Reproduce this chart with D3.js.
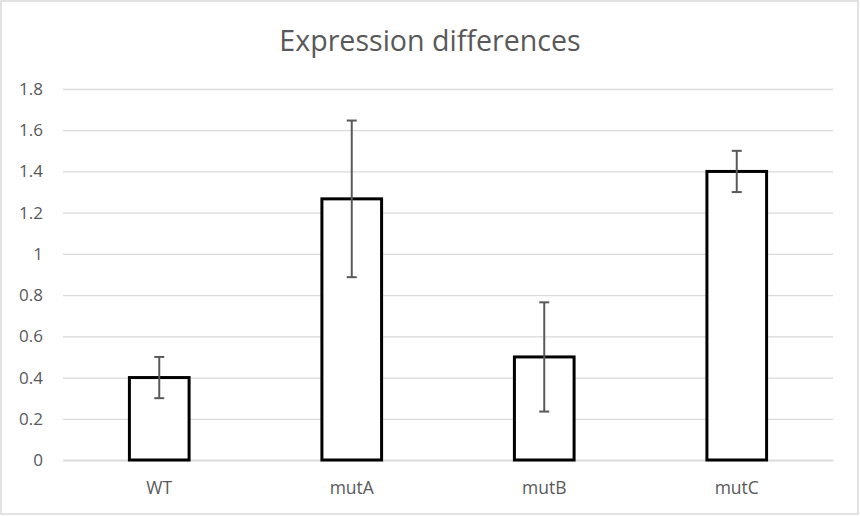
<!DOCTYPE html>
<html>
<head>
<meta charset="utf-8">
<script src="https://cdn.jsdelivr.net/npm/d3@7"></script>
<style>
  body { margin: 0; background: #fff; }
  svg { display: block; font-family: "Open Sans", sans-serif; }
</style>
</head>
<body>
<svg id="chart"></svg>
<script>
const categories = ['WT', 'mutA', 'mutB', 'mutC']
const values = [0.4, 1.267, 0.5, 1.4]
const errors = [0.1, 0.38, 0.265, 0.1]
const yTicks = [0, 0.2, 0.4, 0.6, 0.8, 1, 1.2, 1.4, 1.6, 1.8]

const width = 860
const height = 516
const margin = {top: 89, right: 27, bottom: 56, left: 63}
const font = '"Open Sans", sans-serif'

const svg = d3.select('#chart')
    .attr('width', width)
    .attr('height', height)

// chart border
svg.append('rect')
    .attr('x', 1).attr('y', 1)
    .attr('width', width - 3).attr('height', height - 3)
    .attr('fill', '#fff')
    .attr('stroke', '#d9d9d9')
    .attr('stroke-width', 1.5)

const x = d3.scaleBand()
    .domain(categories)
    .range([margin.left, width - margin.right])
    .paddingInner(0.69)
    .paddingOuter(0.345)

const y = d3.scaleLinear()
    .domain([0, 1.8])
    .range([height - margin.bottom, margin.top])

// title
svg.append('text')
    .attr('x', 430)
    .attr('y', 51)
    .attr('text-anchor', 'middle')
    .attr('font-size', 28.6)
    .attr('fill', '#595959')
    .text('Expression differences')

// gridlines + y labels
svg.append('g')
    .attr('transform', `translate(${margin.left}, 0)`)
    .call(d3.axisLeft(y).tickValues(yTicks).tickSize(-(width - margin.left - margin.right)).tickFormat(d => String(d)))
    .call(g => g.select('.domain').remove())
    .call(g => g.selectAll('.tick line').attr('stroke', '#d9d9d9').attr('stroke-width', 1.3))
    .call(g => g.selectAll('.tick text')
        .attr('x', -20)
        .attr('fill', '#595959')
        .attr('font-size', 17)
        .attr('font-family', font))

// x axis
svg.append('g')
    .attr('transform', `translate(0, ${y(0)})`)
    .call(d3.axisBottom(x).tickSize(0))
    .call(g => g.select('.domain').attr('stroke', '#d9d9d9').attr('stroke-width', 1.3))
    .call(g => g.selectAll('.tick text')
        .attr('dy', 0)
        .attr('y', 34)
        .attr('fill', '#595959')
        .attr('font-size', 17.5)
        .attr('font-family', font))

// bars
svg.append('g')
    .selectAll('rect')
    .data(categories)
    .join('rect')
    .attr('x', d => x(d))
    .attr('y', (d, i) => y(values[i]))
    .attr('width', x.bandwidth())
    .attr('height', (d, i) => y(0) - y(values[i]))
    .attr('fill', '#fff')
    .attr('stroke', '#000')
    .attr('stroke-width', 3)

// error bars
const err = svg.append('g')
    .attr('stroke', '#595959')
    .attr('stroke-width', 2)
const cap = 5
categories.forEach((c, i) => {
    const cx = x(c) + x.bandwidth() / 2
    const hi = y(values[i] + errors[i])
    const lo = y(values[i] - errors[i])
    err.append('line').attr('x1', cx).attr('x2', cx).attr('y1', hi).attr('y2', lo)
    err.append('line').attr('x1', cx - cap).attr('x2', cx + cap).attr('y1', hi).attr('y2', hi)
    err.append('line').attr('x1', cx - cap).attr('x2', cx + cap).attr('y1', lo).attr('y2', lo)
})
</script>
</body>
</html>
